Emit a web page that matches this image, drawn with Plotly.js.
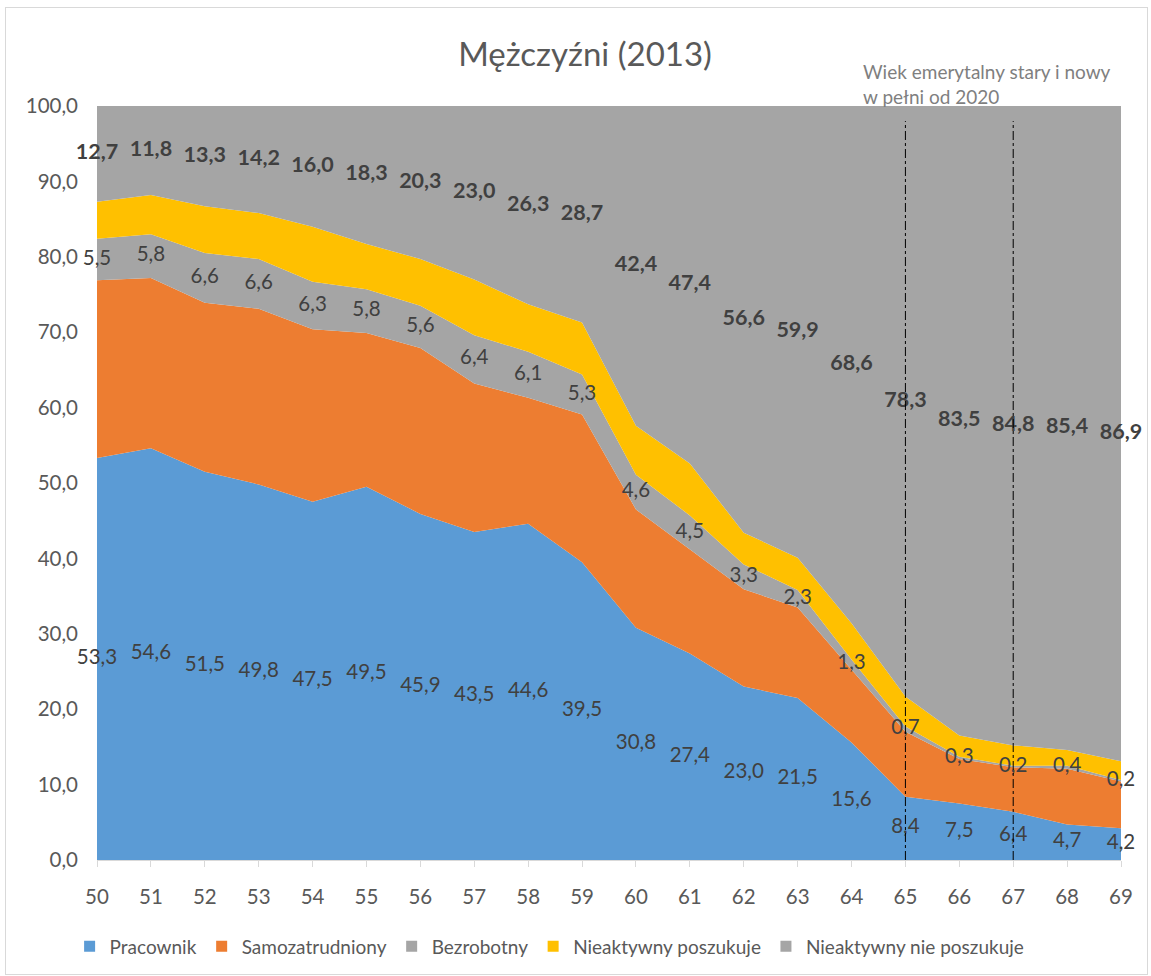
<!DOCTYPE html>
<html>
<head>
<meta charset="utf-8">
<script src="https://cdn.plot.ly/plotly-3.0.1.min.js"></script>
<style>
html,body{margin:0;padding:0;background:#fff;}
#chart{position:absolute;left:0;top:0;width:1151px;height:976px;}
#frame{position:absolute;left:5px;top:7px;width:1141px;height:966px;border:1px solid #d9d9d9;pointer-events:none;}
</style>
</head>
<body>
<div id="chart"></div>
<div id="frame"></div>
<script>
const ages = [50,51,52,53,54,55,56,57,58,59,60,61,62,63,64,65,66,67,68,69];
const pracownik = [53.3,54.6,51.5,49.8,47.5,49.5,45.9,43.5,44.6,39.5,30.8,27.4,23.0,21.5,15.6,8.4,7.5,6.4,4.7,4.2];
const samozatrudniony = [23.6,22.6,22.4,23.3,22.9,20.4,22.0,19.7,16.7,19.6,15.7,13.8,12.9,12.0,9.7,8.6,5.9,5.9,7.4,6.2];
const bezrobotny = [5.5,5.8,6.6,6.6,6.3,5.8,5.6,6.4,6.1,5.3,4.6,4.5,3.3,2.3,1.3,0.7,0.3,0.2,0.4,0.2];
const nieaktPoszukuje = [4.9,5.2,6.2,6.1,7.3,6.0,6.2,7.4,6.3,6.9,6.5,6.9,4.2,4.3,4.8,4.0,2.8,2.7,2.1,2.5];
const nieaktNiePoszukuje = [12.7,11.8,13.3,14.2,16.0,18.3,20.3,23.0,26.3,28.7,42.4,47.4,56.6,59.9,68.6,78.3,83.5,84.8,85.4,86.9];
const retirementAges = [65, 67];
const noteText = 'Wiek emerytalny stary i nowy<br>w pełni od 2020';

const fmt = v => v.toFixed(1).replace('.', ',');
const FONT = 'Lato, "Open Sans", sans-serif';

const series = [
  {name:'Pracownik', y:pracownik, color:'#5B9BD5'},
  {name:'Samozatrudniony', y:samozatrudniony, color:'#ED7D31'},
  {name:'Bezrobotny', y:bezrobotny, color:'#A5A5A5'},
  {name:'Nieaktywny poszukuje', y:nieaktPoszukuje, color:'#FFC000'},
  {name:'Nieaktywny nie poszukuje', y:nieaktNiePoszukuje, color:'#A5A5A5'}
];

const traces = series.map(s => ({
  type:'scatter', mode:'lines', x:ages, y:s.y, name:s.name,
  stackgroup:'one', line:{width:0, color:s.color}, fillcolor:s.color,
  hoverinfo:'skip', showlegend:false
}));

// legend entries with square swatches
series.forEach(s => traces.push({
  type:'scatter', mode:'markers', x:[null], y:[null], name:s.name,
  marker:{symbol:'square', size:11, color:s.color}, showlegend:true, hoverinfo:'skip'
}));

// cumulative midpoints for labels
const base = ages.map(() => 0);
const mids = [];
series.forEach(s => {
  mids.push(s.y.map((v, i) => base[i] + v / 2));
  s.y.forEach((v, i) => base[i] += v);
});

function labelTrace(k, size, bold) {
  return {
    type:'scatter', mode:'text', x:ages, y:mids[k],
    text:series[k].y.map(v => bold ? '<b>' + fmt(v) + '</b>' : fmt(v)),
    textposition:'middle center',
    textfont:{family:FONT, size:size, color:'#404040'},
    showlegend:false, hoverinfo:'skip', cliponaxis:false
  };
}
traces.push(labelTrace(0, 20.5, false));
traces.push(labelTrace(2, 20.5, false));
traces.push(labelTrace(4, 21.5, true));

const shapes = retirementAges.map(a => ({
  type:'line', xref:'x', yref:'y', x0:a, x1:a, y0:0, y1:98,
  line:{color:'#000', width:1, dash:'dashdot'}
}));

const layout = {
  width:1151, height:976,
  margin:{l:97, r:30, t:106, b:115},
  paper_bgcolor:'#fff', plot_bgcolor:'#fff',
  separators:', ',
  font:{family:FONT, color:'#595959', size:18},
  title:{text:'Mężczyźni (2013)', font:{family:FONT, size:33, color:'#595959'},
         x:0.4766, xanchor:'center', y:0.944, yanchor:'middle', xref:'paper'},
  xaxis:{range:[50,69], tickvals:ages, ticktext:ages.map(String), showgrid:false, zeroline:false,
         showline:true, linecolor:'#d9d9d9', ticks:'outside', ticklen:6, tickcolor:'#d9d9d9',
         ticklabelstandoff:12,
         tickfont:{family:FONT, size:20.5, color:'#595959'}, fixedrange:true},
  yaxis:{range:[0,100], dtick:10, tickformat:'.1f', showgrid:false, zeroline:false, showline:false,
         ticks:'', ticklen:0, ticklabelstandoff:18,
         tickfont:{family:FONT, size:20.5, color:'#595959'}, fixedrange:true},
  legend:{orientation:'h', x:0.442, xanchor:'center', y:-0.113, yanchor:'middle',
          font:{family:FONT, size:19, color:'#595959'}, traceorder:'normal'},
  shapes:shapes,
  annotations:[{text:noteText, xref:'x', yref:'paper', x:64.17, y:1.063, xanchor:'left', yanchor:'top',
                showarrow:false, align:'left', font:{family:FONT, size:19, color:'#7f7f7f'}}],
  showlegend:true
};

Plotly.newPlot('chart', traces, layout, {displayModeBar:false, staticPlot:true});
</script>
</body>
</html>
